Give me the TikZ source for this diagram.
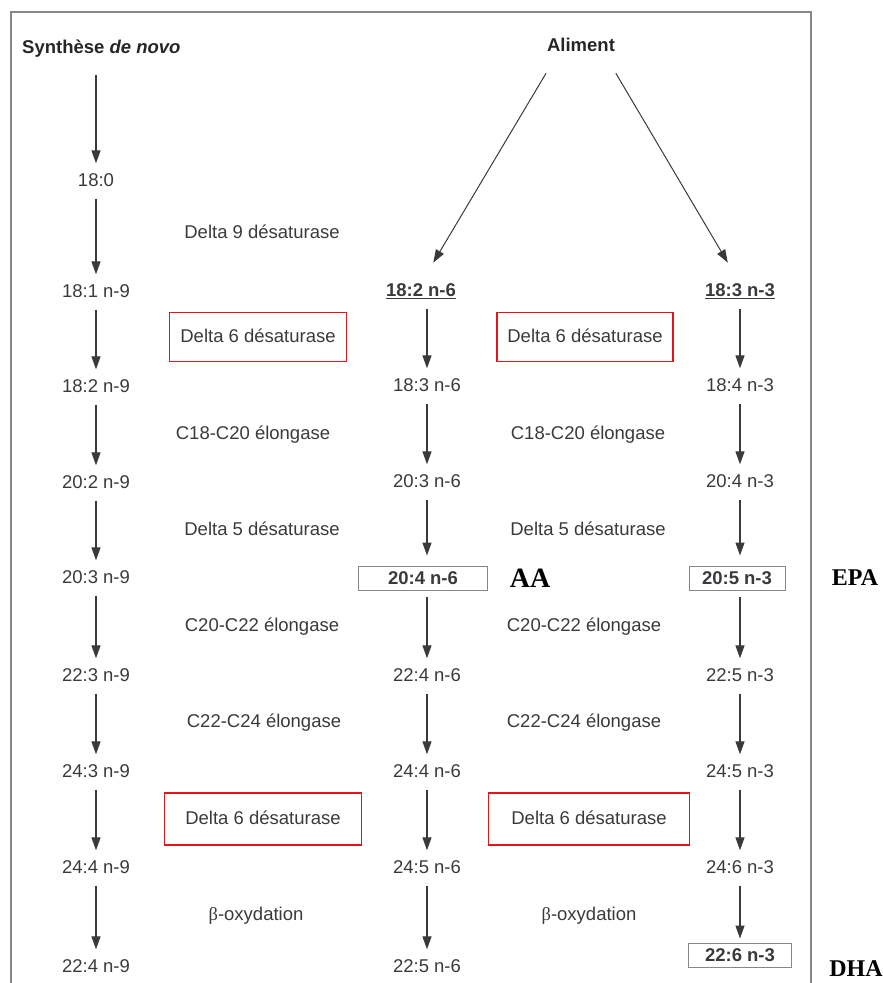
\documentclass[tikz,border=0pt]{standalone}
\usepackage{fontspec}
\setmainfont{Liberation Sans}
\newfontfamily\tagfont{Liberation Serif}
\usetikzlibrary{arrows.meta, positioning}
\definecolor{ink}{RGB}{58,58,62}
\definecolor{framegray}{RGB}{135,135,135}
\definecolor{boxred}{RGB}{228,20,24}

\begin{document}
\begin{tikzpicture}[x=1pt, y=-1pt, font=\fontsize{18.5}{20}\selectfont, text=ink]
    \tikzstyle{acid} = [inner sep=0pt, text height=13pt, text depth=0pt]
    \tikzstyle{keyacid} = [acid, font=\fontsize{18.5}{20}\selectfont\bfseries]
    \tikzstyle{boxed} = [keyacid, draw=framegray, line width=1pt, inner ysep=5.5pt]
    \tikzstyle{enzyme} = [inner sep=0pt, text height=13pt, text depth=3pt]
    \tikzstyle{redbox} = [enzyme, draw=boxred, line width=1.3pt]
    \tikzstyle{head} = [acid, font=\fontsize{18.5}{20}\selectfont\bfseries, text=black!85]
    \tikzstyle{tag} = [inner sep=0pt, font=\fontsize{24}{26}\selectfont\tagfont\bfseries, text=black]
    \tikzstyle{conv} = [draw=ink, line width=1.3pt, -{Triangle[length=13pt,width=9pt]}, shorten <=12pt, shorten >=10pt]
    \tikzstyle{feed} = [draw=ink, line width=1pt, -{Triangle[length=13pt,width=9pt]}, shorten <=25pt, shorten >=24pt]

    \useasboundingbox (0,0) rectangle (883,983);
    \draw [framegray, line width=1.6pt] (11,983) -- (11,12) -- (811,12) -- (811,983);

    % sources
    \node (denovo) [head, anchor=west] at (22,47) {Synthèse \emph{de novo}};
    \node (aliment) [head] at (581,45) {Aliment};
    \coordinate (start) at (96,75);

    % n-9 column
    \node (s180) [acid] at (96,180) {18:0};
    \node (n9a) [acid] at (96,291) {18:1 n-9};
    \node (n9b) [acid] at (96,386) {18:2 n-9};
    \node (n9c) [acid] at (96,482) {20:2 n-9};
    \node (n9d) [acid] at (96,577) {20:3 n-9};
    \node (n9e) [acid] at (96,675) {22:3 n-9};
    \node (n9f) [acid] at (96,771) {24:3 n-9};
    \node (n9g) [acid] at (96,867) {24:4 n-9};
    \node (n9h) [acid] at (96,966) {22:4 n-9};

    % n-6 column
    \node (n6a) [keyacid] at (421,290) {\underline{18:2 n-6}};
    \node (n6b) [acid] at (427,385) {18:3 n-6};
    \node (n6c) [acid] at (427,481) {20:3 n-6};
    \node (n6d) [boxed, minimum width=129pt] at (423,578) {20:4 n-6};
    \node (n6e) [acid] at (427,675) {22:4 n-6};
    \node (n6f) [acid] at (427,771) {24:4 n-6};
    \node (n6g) [acid] at (427,867) {24:5 n-6};
    \node (n6h) [acid] at (427,966) {22:5 n-6};

    % n-3 column
    \node (n3a) [keyacid] at (740,290) {\underline{18:3 n-3}};
    \node (n3b) [acid] at (740,385) {18:4 n-3};
    \node (n3c) [acid] at (740,481) {20:4 n-3};
    \node (n3d) [boxed, minimum width=96pt] at (737,578) {20:5 n-3};
    \node (n3e) [acid] at (740,675) {22:5 n-3};
    \node (n3f) [acid] at (740,771) {24:5 n-3};
    \node (n3g) [acid] at (740,867) {24:6 n-3};
    \node (n3h) [boxed, minimum width=103pt] at (740,955) {22:6 n-3};

    % enzymes, left
    \node (d9) [enzyme] at (262,233) {Delta 9 désaturase};
    \node (d6l) [redbox, minimum width=177pt, minimum height=49pt] at (258,337) {Delta 6 désaturase};
    \node (e18l) [enzyme] at (253,434) {C18-C20 élongase};
    \node (d5l) [enzyme] at (262,530) {Delta 5 désaturase};
    \node (e20l) [enzyme] at (262,626) {C20-C22 élongase};
    \node (e22l) [enzyme] at (264,722) {C22-C24 élongase};
    \node (d6lb) [redbox, minimum width=197pt, minimum height=52pt] at (263,819) {Delta 6 désaturase};
    \node (boxl) [enzyme] at (256,915) {{\tagfont β}-oxydation};

    % enzymes, right
    \node (d6r) [redbox, minimum width=176pt, minimum height=49pt] at (585,337) {Delta 6 désaturase};
    \node (e18r) [enzyme] at (588,434) {C18-C20 élongase};
    \node (d5r) [enzyme] at (588,530) {Delta 5 désaturase};
    \node (e20r) [enzyme] at (584,626) {C20-C22 élongase};
    \node (e22r) [enzyme] at (584,722) {C22-C24 élongase};
    \node (d6rb) [redbox, minimum width=201pt, minimum height=52pt] at (589,819) {Delta 6 désaturase};
    \node (boxr) [enzyme] at (589,915) {{\tagfont β}-oxydation};

    % names
    \node (aa) [tag, font=\fontsize{28}{30}\selectfont\tagfont\bfseries] at (530,578) {AA};
    \node (epa) [tag] at (855,578) {EPA};
    \node (dha) [tag] at (856,969) {DHA};

    % conversions
    \draw [conv, shorten <=0pt] (start) -- (s180);
    \draw [conv] (s180) -- (n9a);
    \draw [conv] (n9a) -- (n9b);
    \draw [conv] (n9b) -- (n9c);
    \draw [conv] (n9c) -- (n9d);
    \draw [conv] (n9d) -- (n9e);
    \draw [conv] (n9e) -- (n9f);
    \draw [conv] (n9f) -- (n9g);
    \draw [conv] (n9g) -- (n9h);

    \draw [conv] (n6a.south -| n6b) -- (n6b);
    \draw [conv] (n6b) -- (n6c);
    \draw [conv] (n6c) -- (n6d.north -| n6c);
    \draw [conv, shorten <=6pt] (n6d.south -| n6e) -- (n6e);
    \draw [conv] (n6e) -- (n6f);
    \draw [conv] (n6f) -- (n6g);
    \draw [conv] (n6g) -- (n6h);

    \draw [conv] (n3a) -- (n3b);
    \draw [conv] (n3b) -- (n3c);
    \draw [conv] (n3c) -- (n3d.north -| n3c);
    \draw [conv, shorten <=6pt] (n3d.south -| n3e) -- (n3e);
    \draw [conv] (n3e) -- (n3f);
    \draw [conv] (n3f) -- (n3g);
    \draw [conv, shorten >=4pt] (n3g) -- (n3h);

    \draw [feed] ([xshift=12pt]aliment.south west) -- (n6a.north);
    \draw [feed] ([xshift=-12pt]aliment.south east) -- (n3a.north);

\end{tikzpicture}
\end{document}
